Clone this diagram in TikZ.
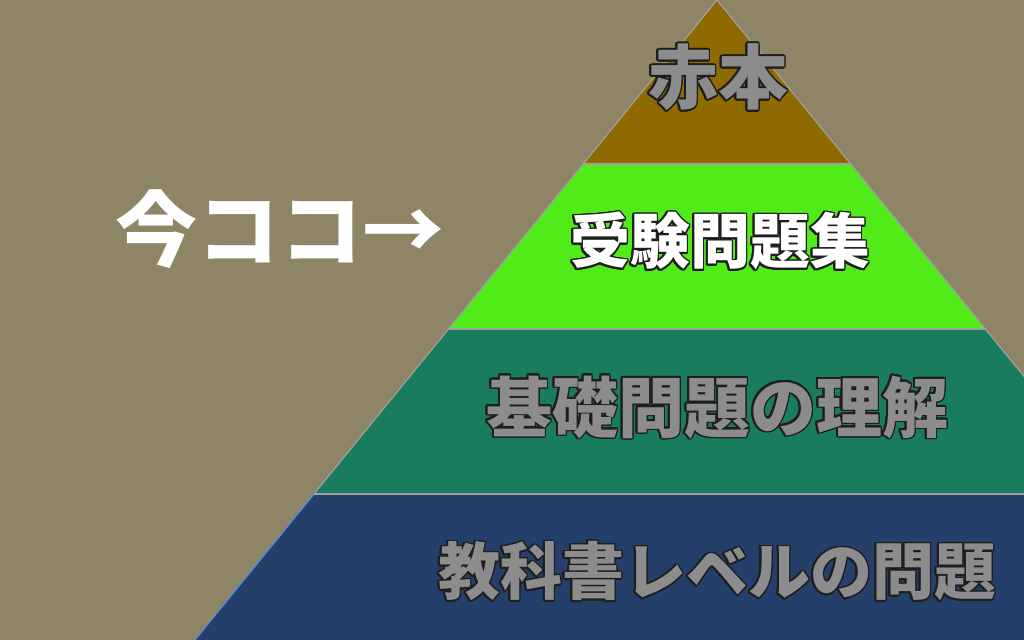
\documentclass[tikz,border=0pt]{standalone}
\usepackage{fontspec}
\usepackage[copies]{contour}
\newfontfamily\jpfont{Noto Sans CJK JP}
\contourlength{1.6bp}
\definecolor{bgkhaki}{HTML}{8E8466}
\definecolor{topbrown}{HTML}{8F6A00}
\definecolor{examgreen}{HTML}{52EB1A}
\definecolor{basicteal}{HTML}{1A7C5E}
\definecolor{booknavy}{HTML}{253F6B}
\definecolor{edgegray}{HTML}{A0A0A0}
\definecolor{textgray}{HTML}{8C8C8C}
\definecolor{inkdark}{HTML}{1E1E1E}
\definecolor{edgeblue}{HTML}{5B8AD0}
\tikzstyle{sep} = [draw=edgegray, line width=1.6bp]
\tikzstyle{edge} = [draw=edgegray, line width=1.2bp]
\tikzstyle{level} = [inner sep=0pt, text=textgray, font=\jpfont\bfseries]

\begin{document}
\begin{tikzpicture}[x=1bp, y=-1bp]
\fill[bgkhaki] (0,0) rectangle (1024,640);
\useasboundingbox (0,0) rectangle (1024,640);
\clip (0,0) rectangle (1024,640);

\coordinate (apex) at (717,0);
\coordinate (l1) at (583.2,164);
\coordinate (r1) at (850.8,164);
\coordinate (l2) at (448.5,329);
\coordinate (r2) at (985.5,329);
\coordinate (l3) at (313.9,494);
\coordinate (r3) at (1120,494);
\coordinate (l4) at (194.8,640);
\coordinate (r4) at (1239,640);

\fill[topbrown] (apex) -- (l1) -- (r1) -- cycle;
\fill[examgreen] (l1) -- (l2) -- (r2) -- (r1) -- cycle;
\fill[basicteal] (l2) -- (l3) -- (r3) -- (r2) -- cycle;
\fill[booknavy] (l3) -- (l4) -- (r4) -- (r3) -- cycle;

\draw[sep] (l1) -- (r1);
\draw[sep] (l2) -- (r2);
\draw[sep] (l3) -- (r3);
\draw[edge] (l3) -- (apex) -- (r4);
\draw[edgeblue, line width=1.4bp] (l3) -- (l4);

\node (akahon) [level, font=\jpfont\bfseries\fontsize{70bp}{80bp}\selectfont] at (718,78) {\contour{inkdark}{赤本}};
\node (exam) [level, text=white, font=\jpfont\bfseries\fontsize{60bp}{70bp}\selectfont] at (720,242) {\contour{inkdark}{受験問題集}};
\node (basic) [level, font=\jpfont\bfseries\fontsize{66bp}{76bp}\selectfont] at (717,408) {\contour{inkdark}{基礎問題の理解}};
\node (book) [level, font=\jpfont\bfseries\fontsize{62bp}{72bp}\selectfont] at (717,572) {\contour{inkdark}{教科書レベルの問題}};

\node (now) [inner sep=0pt, text=white, font=\jpfont\bfseries\fontsize{82bp}{92bp}\selectfont] at (280,229) {今ココ→};
\end{tikzpicture}
\end{document}
